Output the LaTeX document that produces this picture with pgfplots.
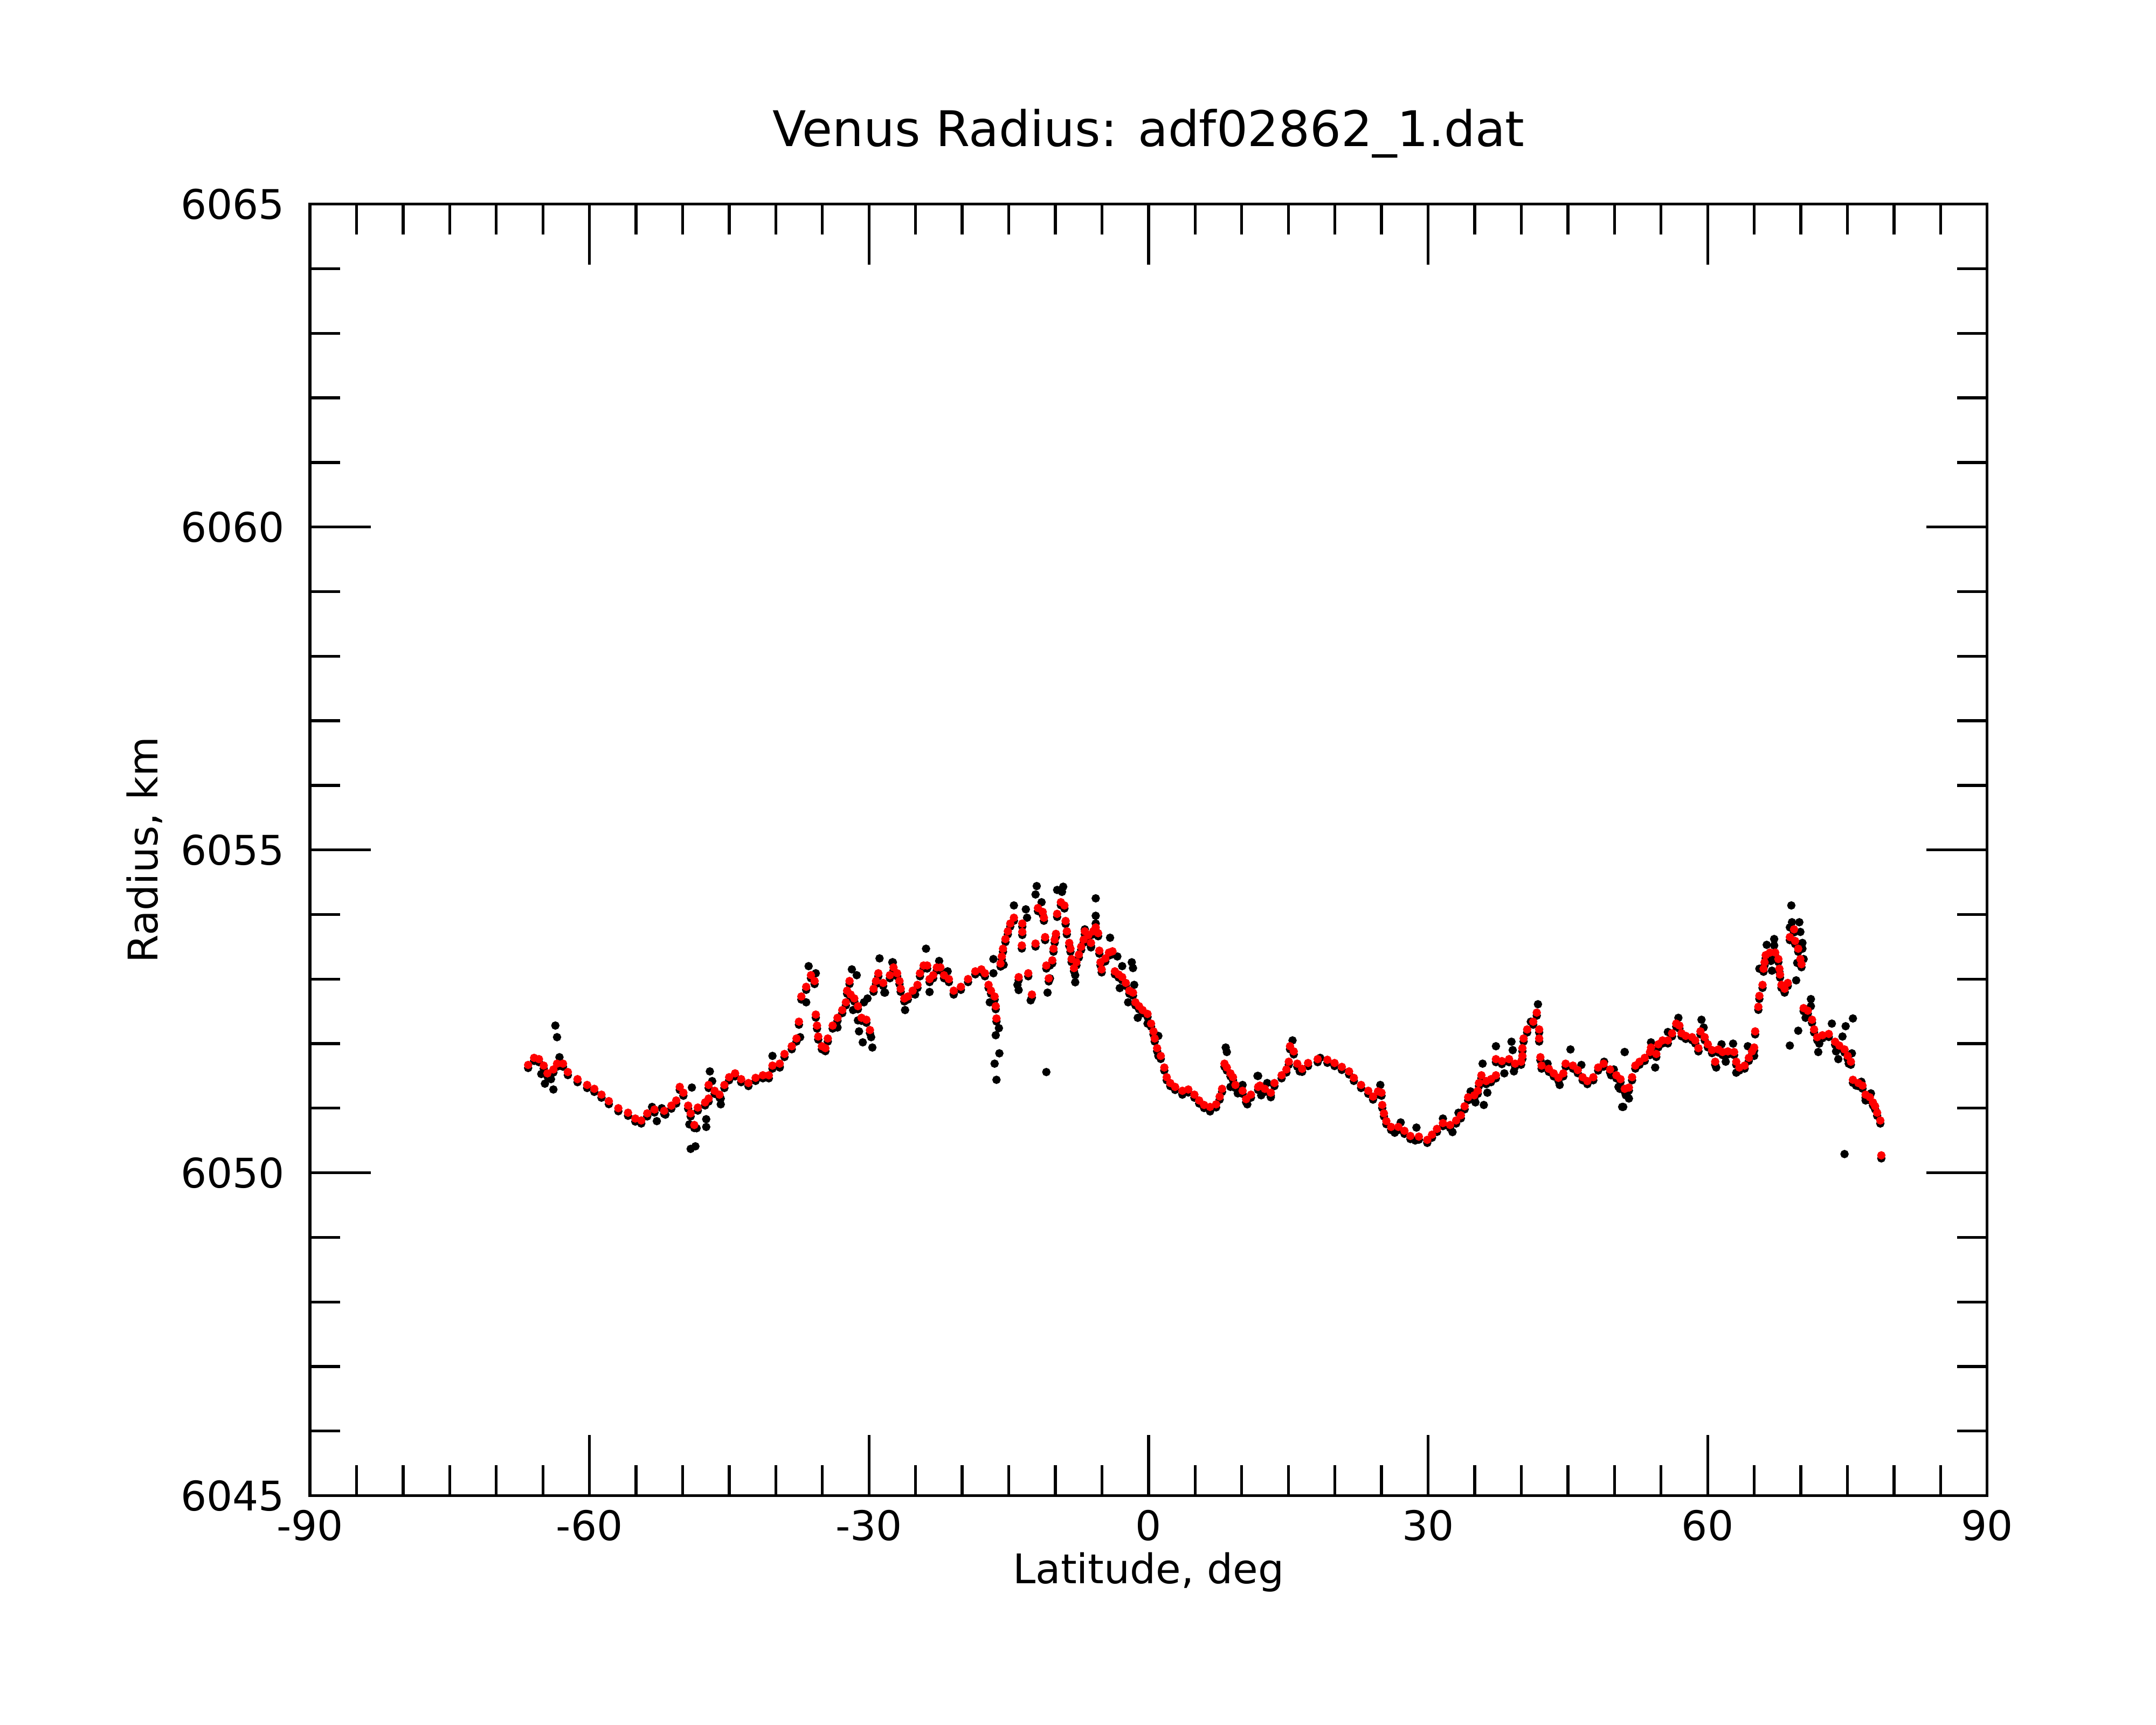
\documentclass[border=0pt]{standalone}
\usepackage{fontspec}
\setmainfont{DejaVu Sans}
\usepackage{pgfplots}
\pgfplotsset{compat=1.18}
\usepackage{pgfplotstable}

\pgfplotstableread{
x y
-66.58 6051.67
-65.94 6051.78
-65.42 6051.76
-64.91 6051.66
-64.51 6051.54
-63.87 6051.60
-63.48 6051.69
-62.84 6051.69
-62.32 6051.56
-61.28 6051.45
-60.25 6051.36
-59.48 6051.30
-58.71 6051.21
-57.92 6051.11
-56.90 6051.00
-55.86 6050.93
-55.08 6050.84
-54.44 6050.81
-53.80 6050.92
-53.02 6050.98
-51.98 6050.96
-51.21 6051.04
-50.69 6051.12
-50.31 6051.33
-49.92 6051.24
-49.41 6051.04
-49.14 6050.92
-48.75 6050.74
-48.37 6051.01
-47.59 6051.09
-47.21 6051.15
-47.21 6051.36
-46.57 6051.27
-46.04 6051.21
-45.52 6051.36
-45.01 6051.48
-44.37 6051.54
-43.72 6051.45
-42.94 6051.39
-42.17 6051.47
-41.39 6051.51
-40.75 6051.51
-40.36 6051.66
-39.58 6051.69
-39.07 6051.84
-38.29 6051.96
-37.78 6052.08
-37.52 6052.34
-37.26 6052.73
-36.74 6052.88
-36.23 6053.06
-35.84 6052.97
-35.71 6052.45
-35.58 6052.28
-35.45 6052.11
-35.06 6051.96
-34.68 6051.93
-34.42 6052.08
-33.90 6052.28
-33.38 6052.40
-32.87 6052.52
-32.48 6052.64
-32.35 6052.82
-32.09 6052.97
-31.97 6052.76
-31.58 6052.70
-31.19 6052.58
-30.80 6052.40
-30.28 6052.37
-29.90 6052.21
-29.51 6052.85
-29.25 6052.97
-29.00 6053.09
-28.48 6052.94
-27.76 6053.06
-27.37 6053.18
-26.98 6053.09
-26.73 6052.97
-26.60 6052.85
-26.21 6052.70
-25.83 6052.73
-25.31 6052.82
-24.80 6052.91
-24.53 6053.09
-24.14 6053.21
-23.76 6053.21
-23.50 6053.00
-23.11 6053.06
-22.72 6053.18
-22.34 6053.18
-21.95 6053.06
-21.43 6053.00
-20.91 6052.82
-20.14 6052.88
-19.37 6053.00
-18.59 6053.12
-17.94 6053.15
-17.56 6053.09
-17.17 6052.91
-16.91 6052.82
-16.52 6052.73
-16.40 6052.58
-16.32 6052.39
-15.88 6053.24
-15.75 6053.35
-15.62 6053.47
-15.36 6053.62
-15.10 6053.74
-14.84 6053.86
-14.45 6053.95
-13.55 6053.86
-13.55 6053.73
-13.60 6053.52
-13.94 6053.03
-12.91 6053.09
-12.52 6052.76
-12.13 6053.55
-11.87 6054.10
-11.36 6054.04
-11.23 6053.95
-11.10 6053.65
-10.97 6053.21
-10.71 6053.01
-10.33 6053.29
-10.20 6053.47
-10.07 6053.61
-9.94 6053.70
-9.81 6054.01
-9.41 6054.19
-9.03 6054.14
-8.90 6053.90
-8.77 6053.74
-8.51 6053.56
-8.38 6053.47
-8.26 6053.31
-8.00 6053.17
-7.74 6053.26
-7.48 6053.38
-7.23 6053.50
-6.97 6053.61
-6.84 6053.74
-6.45 6053.68
-6.18 6053.56
-5.93 6053.74
-5.67 6053.80
-5.41 6053.71
-5.28 6053.44
-5.16 6053.26
-5.03 6053.15
-4.64 6053.32
-4.25 6053.41
-3.87 6053.43
-3.61 6053.12
-3.21 6053.07
-2.83 6053.03
-2.44 6052.94
-2.06 6052.82
-1.67 6052.79
-1.41 6052.64
-1.02 6052.58
-0.64 6052.52
-0.11 6052.46
0.27 6052.31
0.53 6052.19
0.66 6052.08
0.92 6051.93
1.31 6051.81
1.69 6051.63
1.95 6051.48
2.33 6051.39
2.85 6051.33
3.63 6051.27
4.27 6051.29
4.92 6051.21
5.43 6051.12
5.96 6051.05
6.60 6051.02
7.25 6051.06
7.63 6051.18
7.89 6051.30
8.15 6051.69
8.40 6051.63
8.79 6051.54
9.06 6051.48
9.32 6051.36
10.09 6051.27
10.47 6051.14
10.99 6051.21
11.76 6051.33
11.95 6051.35
12.48 6051.30
13.12 6051.24
13.51 6051.39
14.28 6051.51
14.79 6051.60
15.05 6051.72
15.18 6051.96
15.58 6051.88
15.96 6051.69
16.48 6051.61
17.12 6051.70
18.15 6051.76
19.19 6051.75
19.96 6051.70
20.74 6051.64
21.52 6051.57
22.03 6051.47
22.81 6051.36
23.58 6051.27
24.09 6051.18
24.62 6051.26
25.00 6051.24
25.08 6051.05
25.26 6050.92
25.52 6050.80
26.03 6050.71
26.81 6050.71
27.46 6050.65
28.10 6050.57
29.01 6050.56
29.91 6050.51
30.42 6050.59
30.95 6050.68
31.59 6050.77
32.36 6050.74
33.01 6050.81
33.52 6050.89
33.92 6051.03
34.30 6051.17
34.95 6051.20
35.33 6051.27
35.46 6051.39
35.72 6051.51
36.24 6051.42
36.75 6051.45
37.28 6051.51
37.28 6051.76
37.92 6051.73
38.69 6051.76
39.34 6051.69
39.98 6051.72
40.12 6051.81
40.12 6051.93
40.25 6052.08
40.63 6052.22
41.28 6052.34
41.66 6052.48
41.92 6052.22
41.92 6052.08
42.05 6051.79
42.18 6051.66
42.96 6051.61
43.48 6051.54
43.99 6051.47
44.51 6051.54
44.76 6051.69
45.54 6051.66
46.06 6051.59
46.58 6051.48
47.09 6051.42
47.73 6051.48
48.25 6051.63
48.84 6051.69
49.53 6051.60
50.20 6051.51
50.65 6051.45
51.10 6051.30
51.55 6051.32
51.89 6051.48
52.24 6051.66
52.69 6051.72
53.25 6051.78
53.81 6051.87
53.92 6051.94
54.49 6051.84
54.71 6051.99
55.16 6052.05
55.73 6052.05
56.18 6052.16
56.63 6052.31
56.97 6052.28
57.20 6052.16
57.65 6052.12
58.33 6052.10
58.67 6052.05
59.01 6051.93
59.23 6052.19
59.68 6052.10
60.02 6051.99
60.47 6051.90
60.81 6051.72
61.15 6051.91
61.60 6051.87
62.17 6051.88
62.84 6051.87
63.07 6051.72
63.40 6051.63
63.97 6051.66
64.42 6051.78
64.76 6051.88
64.99 6051.94
65.10 6052.19
65.44 6052.57
65.55 6052.74
65.89 6052.91
66.00 6053.16
66.11 6053.26
66.23 6053.37
66.68 6053.41
67.25 6053.41
67.59 6053.31
67.70 6053.16
67.77 6053.07
67.92 6052.91
68.26 6052.85
68.60 6052.94
68.82 6053.65
69.27 6053.77
69.39 6053.59
69.72 6053.47
69.95 6053.31
70.07 6053.23
70.30 6052.55
70.75 6052.51
71.20 6052.37
71.42 6052.22
71.76 6052.10
72.32 6052.13
73.00 6052.15
73.68 6052.03
74.13 6051.97
74.69 6051.91
75.03 6051.81
75.37 6051.72
75.59 6051.44
76.17 6051.39
76.62 6051.35
76.95 6051.21
77.40 6051.17
77.74 6051.09
77.97 6051.03
78.19 6050.93
78.53 6050.81
78.64 6050.27
}\reddata

\pgfplotstableread{
x y
-63.66 6052.28
-63.48 6052.10
-63.22 6051.79
-65.17 6051.53
-64.78 6051.38
-64.13 6051.45
-63.87 6051.29
-53.28 6051.02
-52.77 6050.80
-52.24 6051.00
-51.85 6050.90
-49.28 6050.75
-49.01 6051.32
-48.50 6050.69
-47.47 6050.83
-47.47 6050.71
-49.14 6050.37
-48.63 6050.41
-47.08 6051.57
-46.83 6051.42
-45.91 6051.15
-45.91 6051.06
-40.36 6051.81
-39.58 6051.63
-36.48 6053.20
-35.71 6053.09
-36.74 6052.64
-31.71 6052.52
-31.19 6052.36
-31.07 6052.19
-30.67 6052.02
-29.77 6052.10
-29.64 6051.94
-28.87 6053.32
-31.32 6053.06
-31.84 6053.15
-30.16 6052.70
-30.54 6052.64
-28.35 6052.79
-27.44 6053.26
-33.38 6052.25
-37.39 6052.10
-28.28 6052.79
-23.88 6053.47
-23.50 6052.80
-26.13 6052.52
-25.05 6052.76
-27.50 6053.26
-22.47 6053.28
-21.56 6053.12
-20.91 6052.76
-16.65 6053.31
-16.65 6053.09
-17.04 6052.64
-16.06 6052.24
-16.40 6052.13
-16.01 6051.85
-16.52 6051.69
-16.32 6051.44
-15.55 6053.22
-14.45 6054.14
-13.17 6054.08
-13.04 6053.95
-14.07 6052.91
-13.94 6052.83
-12.65 6052.67
-12.00 6054.44
-12.13 6054.31
-11.48 6054.19
-9.81 6054.38
-9.16 6054.43
-9.29 6054.35
-10.84 6052.79
-10.58 6053.01
-10.58 6053.21
-10.97 6051.56
-7.87 6053.06
-7.87 6052.95
-5.67 6054.25
-5.67 6053.98
-5.67 6053.86
-6.84 6053.77
-6.18 6053.49
-4.13 6053.64
-3.35 6053.35
-2.83 6053.20
-1.80 6053.26
-1.67 6053.17
-3.09 6052.86
-1.54 6052.91
-2.19 6052.64
-1.16 6052.40
-0.11 6052.31
1.05 6052.12
1.05 6051.81
8.28 6051.94
8.40 6051.87
8.79 6051.33
9.57 6051.23
10.09 6051.36
10.60 6051.06
11.76 6051.50
3.63 6051.21
6.60 6050.95
15.45 6052.05
11.69 6051.50
12.09 6051.20
12.73 6051.39
13.12 6051.17
16.22 6051.57
18.42 6051.78
24.87 6051.36
26.42 6050.62
27.06 6050.78
28.75 6050.70
28.62 6050.50
29.91 6050.50
31.59 6050.84
32.62 6050.63
33.26 6050.93
34.56 6051.26
35.08 6051.09
35.85 6051.69
36.36 6051.24
35.98 6051.05
37.28 6051.96
38.18 6051.54
38.95 6052.03
39.08 6051.90
39.21 6051.57
41.79 6052.61
41.02 6052.34
42.82 6051.69
44.12 6051.36
45.28 6051.91
46.45 6051.67
48.89 6051.72
49.93 6051.60
50.58 6051.30
50.83 6051.02
51.09 6051.87
51.22 6051.20
68.98 6054.14
69.05 6053.88
69.84 6053.88
68.82 6053.80
69.95 6053.73
70.17 6053.56
70.17 6053.47
70.30 6053.31
69.61 6053.25
69.50 6052.98
67.14 6053.62
66.34 6053.53
67.14 6053.52
66.79 6053.28
65.55 6053.16
66.90 6053.13
68.26 6052.79
71.08 6052.69
71.08 6052.58
70.51 6052.40
69.72 6052.20
68.82 6051.97
75.59 6052.39
74.81 6052.27
73.33 6052.31
74.47 6052.11
71.98 6052.00
71.87 6051.87
73.78 6051.88
74.02 6051.76
75.48 6051.85
75.14 6051.69
76.50 6051.41
75.93 6051.35
77.52 6051.23
76.95 6051.12
74.69 6050.29
51.10 6051.87
50.94 6051.02
51.33 6051.20
51.55 6051.15
56.86 6052.40
55.73 6052.18
53.92 6052.02
54.37 6051.63
59.34 6052.37
59.57 6052.25
60.92 6051.63
61.94 6051.72
61.49 6051.99
62.73 6052.00
63.07 6051.55
59.01 6051.88
49.64 6051.51
50.43 6051.33
64.31 6051.96
64.99 6051.81
}\blackdata

\begin{document}
\begin{tikzpicture}
\begin{axis}[
  scale only axis,
  width=304pt, height=234.05pt,
  xmin=-90, xmax=90, ymin=6045, ymax=6065,
  xtick={-90,-60,...,90},
  ytick={6045,6050,...,6065},
  minor x tick num=5, minor y tick num=4,
  tick align=inside,
  major tick length=11pt, minor tick length=5.5pt,
  axis line style={line width=0.52pt},
  every tick/.style={black, line width=0.52pt},
  /pgf/number format/assume math mode=true,
  /pgf/number format/1000 sep={},
  tick label style={font=\fontsize{7.4}{8.9}\selectfont},
  xticklabel style={anchor=north, inner sep=0pt, yshift=-2.4pt},
  yticklabel style={anchor=east, inner sep=0pt, xshift=-4.4pt},
  xlabel={Latitude, deg},
  ylabel={Radius, km},
  label style={font=\fontsize{7.4}{8.9}\selectfont},
  xlabel style={at={(axis description cs:0.5,-0.0594)}, anchor=center},
  ylabel style={at={(axis description cs:-0.0987,0.5)}, anchor=center},
  title={Venus Radius: adf02862\_1.dat},
  title style={font=\fontsize{8.9}{10.7}\selectfont, at={(axis description cs:0.5,1.0289)}, anchor=center},
]
\addplot[only marks, mark=*, mark size=0.55pt, black, mark options={yshift=-0.55pt}] table[x=x,y=y]{\reddata};
\addplot[only marks, mark=*, mark size=0.55pt, black] table[x=x,y=y]{\blackdata};
\addplot[only marks, mark=*, mark size=0.55pt, red] table[x=x,y=y]{\reddata};
\coordinate (SW) at (rel axis cs:0,0);
\coordinate (NE) at (rel axis cs:1,1);
\end{axis}
\pgfresetboundingbox
\path[use as bounding box] ([shift={(-56.17pt,-41.55pt)}]SW) rectangle ([shift={(30.6pt,37pt)}]NE);
\end{tikzpicture}
\end{document}
